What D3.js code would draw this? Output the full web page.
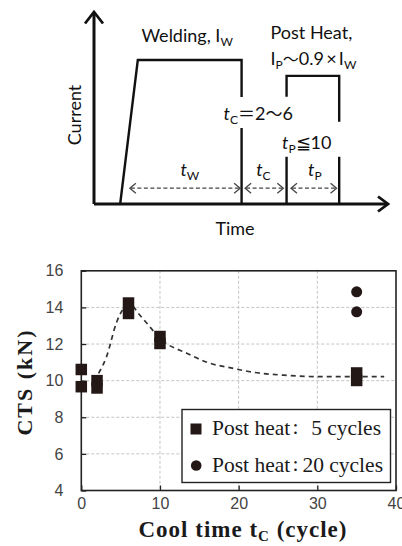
<!DOCTYPE html>
<html>
<head>
<meta charset="utf-8">
<script src="https://cdn.jsdelivr.net/npm/d3@7"></script>
<style>
body { margin: 0; background: #fff; }
.sch { font-family: Lato, "Open Sans", sans-serif; fill: #111; }
.cjk { font-family: "Noto Sans CJK JP", sans-serif; }
.serif { font-family: "Liberation Serif", "DejaVu Serif", serif; fill: #1a1a1a; }
.tick text { font-family: "Liberation Sans", Arial, sans-serif; font-size: 16px; fill: #444; }
</style>
</head>
<body>
<svg id="chart" width="402" height="546"></svg>
<script>
// ---- schematic of the current pattern (arbitrary time / current units) ----
const weldStart = 8.9, rampEnd = 14.9, weldEnd = 50.2;
const postStart = 65.5, postEnd = 83.4;
const weldCurrent = 1.0, postCurrent = 0.89;
const spanArrows = [
	{from: 12.2, to: 49.7, label: 'W', lx: 32.6},
	{from: 51.4, to: 64.4, label: 'C', lx: 57.6},
	{from: 67.0, to: 82.5, label: 'P', lx: 75.1}
];

// ---- CTS vs cool time ----
const xTicks = [0, 10, 20, 30, 40];
const yTicks = [4, 6, 8, 10, 12, 14, 16];
const post5X = [0, 0, 2, 2, 6, 6, 10, 10, 35, 35];
const post5Y = [10.61, 9.67, 10.0, 9.6, 14.24, 13.67, 12.41, 12.03, 10.42, 10.01];
const post20X = [35, 35];
const post20Y = [14.85, 13.76];
const fitX = [2.2, 3.2, 4.5, 5.5, 6.3, 7.2, 8.5, 10, 13.4, 16, 19.3, 22, 25.7, 30, 35, 38.5];
const fitY = [10.4, 11.3, 13.2, 14.0, 14.15, 13.7, 13.05, 12.3, 11.5, 11.0, 10.67, 10.45, 10.3, 10.22, 10.22, 10.22];
const legendCounts = ['5 cycles', '20 cycles'];

const svg = d3.select('#chart');
svg.append('rect').attr('width', 402).attr('height', 546).attr('fill', '#fff');

// ================= top schematic =================
const tx = d3.scaleLinear().domain([0, 100]).range([94, 388]);
const iy = d3.scaleLinear().domain([0, 1]).range([204, 60]);
const sch = svg.append('g');

// axes with open arrow heads
sch.append('path')
	.attr('d', `M${tx(0)},${iy(0)}V12 M${tx(0)},${iy(0)}H${tx(100)}`)
	.attr('fill', 'none').attr('stroke', '#111').attr('stroke-width', 3);
sch.append('path')
	.attr('d', `M85,23.5L94,12L103,23.5 M378,196.5L388,204L378,211.5`)
	.attr('fill', 'none').attr('stroke', '#111').attr('stroke-width', 2.8)
	.attr('stroke-linejoin', 'miter');

// waveform, with gaps where the labels sit
const wave = [
	[[weldStart, 0], [rampEnd, weldCurrent], [weldEnd, weldCurrent], [weldEnd, 0.743]],
	[[weldEnd, 0.528], [weldEnd, 0]],
	[[postStart, 0.745], [postStart, postCurrent], [postEnd, postCurrent], [postEnd, 0.571]],
	[[postStart, 0.328], [postStart, 0]],
	[[postEnd, 0.328], [postEnd, 0]]
];
const waveLine = d3.line().x(d => tx(d[0])).y(d => iy(d[1]));
sch.selectAll('path.wave').data(wave).enter().append('path')
	.attr('class', 'wave')
	.attr('d', waveLine)
	.attr('fill', 'none').attr('stroke', '#111').attr('stroke-width', 2.4);

// dashed double arrows
const ay = iy(0.11);
spanArrows.forEach(a => {
	let x1 = tx(a.from), x2 = tx(a.to);
	sch.append('line')
		.attr('x1', x1 + 1).attr('x2', x2 - 1).attr('y1', ay).attr('y2', ay)
		.attr('stroke', '#444').attr('stroke-width', 1.3).attr('stroke-dasharray', '4,2.5');
	sch.append('path')
		.attr('d', `M${x1 + 6},${ay - 5}L${x1},${ay}L${x1 + 6},${ay + 5} M${x2 - 6},${ay - 5}L${x2},${ay}L${x2 - 6},${ay + 5}`)
		.attr('fill', 'none').attr('stroke', '#444').attr('stroke-width', 1.3);
	let t = sch.append('text').attr('class', 'sch')
		.attr('x', tx(a.lx)).attr('y', 176).attr('text-anchor', 'middle').attr('font-size', 18);
	t.append('tspan').attr('font-style', 'italic').text('t');
	t.append('tspan').attr('font-size', 12).attr('dy', 4).text(a.label);
});

// labels
let tw = sch.append('text').attr('class', 'sch').attr('x', 141.5).attr('y', 42).attr('font-size', 18);
tw.append('tspan').text('Welding, I');
tw.append('tspan').attr('font-size', 12).attr('dy', 4).text('W');

sch.append('text').attr('class', 'sch').attr('x', 270.5).attr('y', 39).attr('font-size', 18).text('Post Heat,');
let ip = sch.append('text').attr('class', 'sch').attr('x', 270.5).attr('y', 65).attr('font-size', 18);
ip.append('tspan').text('I');
ip.append('tspan').attr('font-size', 12).attr('dy', 4).text('P');
ip.append('tspan').attr('class', 'cjk').attr('dy', -4).attr('font-size', 16).text('～');
ip.append('tspan').text('0.9\u2009×\u2009I');
ip.append('tspan').attr('font-size', 12).attr('dy', 4).text('W');

let tc = sch.append('text').attr('class', 'sch').attr('x', 223.5).attr('y', 119.5).attr('font-size', 18);
tc.append('tspan').attr('font-style', 'italic').text('t');
tc.append('tspan').attr('font-size', 12).attr('dy', 4).text('C');
tc.append('tspan').attr('class', 'cjk').attr('dy', -4).attr('font-size', 17).text('＝');
tc.append('tspan').text('2');
tc.append('tspan').attr('class', 'cjk').attr('font-size', 17).text('～');
tc.append('tspan').text('6');

let tp = sch.append('text').attr('class', 'sch').attr('x', 282).attr('y', 148.5).attr('font-size', 18);
tp.append('tspan').attr('font-style', 'italic').text('t');
tp.append('tspan').attr('font-size', 12).attr('dy', 4).text('P');
tp.append('tspan').attr('dy', -4).text('≦10');

sch.append('text').attr('class', 'sch')
	.attr('transform', 'translate(81,115) rotate(-90)')
	.attr('text-anchor', 'middle').attr('font-size', 18).text('Current');
sch.append('text').attr('class', 'sch')
	.attr('x', 235).attr('y', 234.5).attr('text-anchor', 'middle').attr('font-size', 18).text('Time');

// ================= bottom chart =================
const x = d3.scaleLinear().domain([0, 40]).range([81.3, 396]);
const y = d3.scaleLinear().domain([4, 16]).range([490.5, 270.8]);
const plot = svg.append('g');

// grid
plot.selectAll('line.vgrid').data(xTicks.slice(1, -1)).enter().append('line')
	.attr('x1', d => x(d)).attr('x2', d => x(d)).attr('y1', y(16)).attr('y2', y(4))
	.attr('stroke', '#c4c4c4').attr('stroke-width', 1).attr('stroke-dasharray', '3,2');
plot.selectAll('line.hgrid').data(yTicks.slice(1, -1)).enter().append('line')
	.attr('x1', x(0)).attr('x2', x(40)).attr('y1', d => y(d)).attr('y2', d => y(d))
	.attr('stroke', '#c4c4c4').attr('stroke-width', 1).attr('stroke-dasharray', '3,2');

// axes (ticks inward)
plot.append('g').attr('transform', `translate(0,${y(4)})`)
	.call(d3.axisBottom(x).tickValues(xTicks).tickSize(-5).tickPadding(7))
	.call(g => g.select('.domain').remove())
	.call(g => g.selectAll('.tick line').attr('stroke', '#222').attr('stroke-width', 1.3));
plot.append('g').attr('transform', `translate(${x(0)},0)`)
	.call(d3.axisLeft(y).tickValues(yTicks).tickSize(-5).tickPadding(18))
	.call(g => g.select('.domain').remove())
	.call(g => g.selectAll('.tick line').attr('stroke', '#222').attr('stroke-width', 1.3));

// frame
plot.append('rect')
	.attr('x', x(0)).attr('y', y(16)).attr('width', x(40) - x(0)).attr('height', y(4) - y(16))
	.attr('fill', 'none').attr('stroke', '#222').attr('stroke-width', 1.6);

// fitted trend
const fit = fitX.map((v, i) => [v, fitY[i]]);
plot.append('path')
	.datum(fit)
	.attr('d', d3.line().x(d => x(d[0])).y(d => y(d[1])).curve(d3.curveMonotoneX))
	.attr('fill', 'none').attr('stroke', '#333').attr('stroke-width', 1.7).attr('stroke-dasharray', '5,4');

// markers
const sq = 11.5;
plot.selectAll('rect.p5').data(post5X.map((v, i) => [v, post5Y[i]])).enter().append('rect')
	.attr('class', 'p5')
	.attr('x', d => x(d[0]) - sq / 2).attr('y', d => y(d[1]) - sq / 2)
	.attr('width', sq).attr('height', sq).attr('fill', '#231815');
plot.selectAll('circle.p20').data(post20X.map((v, i) => [v, post20Y[i]])).enter().append('circle')
	.attr('class', 'p20')
	.attr('cx', d => x(d[0])).attr('cy', d => y(d[1])).attr('r', 5.5).attr('fill', '#231815');

// legend
const lg = plot.append('g');
lg.append('rect').attr('x', 182).attr('y', 409.5).attr('width', 208.5).attr('height', 73)
	.attr('fill', '#fff').attr('stroke', '#222').attr('stroke-width', 1.4);
lg.append('rect').attr('x', 190.5).attr('y', 423.5).attr('width', 11).attr('height', 11).attr('fill', '#231815');
lg.append('circle').attr('cx', 196.2).attr('cy', 465.5).attr('r', 5.3).attr('fill', '#231815');
const rowY = [434.5, 471.5];
const rowEnd = [381, 383];
rowY.forEach((ry, i) => {
	lg.append('text').attr('class', 'serif').attr('x', 212).attr('y', ry).attr('font-size', 21.5)
		.text('Post heat');
	lg.append('text').attr('class', 'serif').attr('x', 295.5).attr('y', ry - 1).attr('font-size', 21.5)
		.attr('text-anchor', 'middle').text(':');
	lg.append('text').attr('class', 'serif').attr('x', rowEnd[i]).attr('y', ry).attr('font-size', 21.5)
		.attr('text-anchor', 'end').text(legendCounts[i]);
});

// axis titles
plot.append('text').attr('class', 'serif')
	.attr('transform', 'translate(24,382) rotate(-90)')
	.attr('text-anchor', 'middle').attr('dy', '0.35em').attr('letter-spacing', 2)
	.attr('font-size', 22).attr('font-weight', 'bold').text('CTS (kN)');
let xl = plot.append('text').attr('class', 'serif')
	.attr('x', 243).attr('y', 537).attr('text-anchor', 'middle').attr('letter-spacing', 1)
	.attr('font-size', 23).attr('font-weight', 'bold');
xl.append('tspan').text('Cool time t');
xl.append('tspan').attr('font-size', 15).attr('dy', 4).text('C');
xl.append('tspan').attr('dy', -4).text(' (cycle)');
</script>
</body>
</html>
